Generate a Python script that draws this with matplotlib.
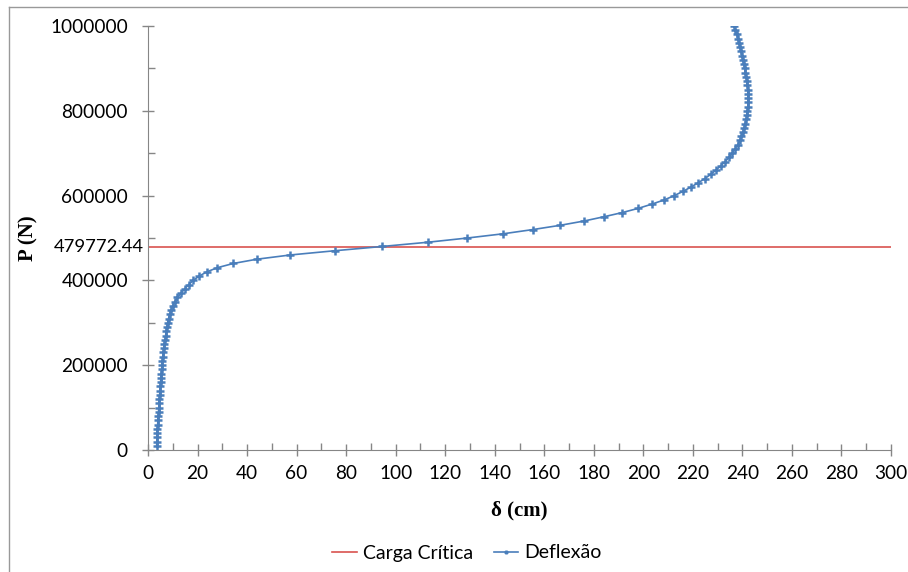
import matplotlib.pyplot as plt
from matplotlib.lines import Line2D
from matplotlib.ticker import MultipleLocator, StrMethodFormatter

# --- Data ---
carga_critica = 479772.44

# P (N), every 10000 N
P = [10000 * (i + 1) for i in range(100)]

# deflection delta (cm) for each P
delta = [
    3.5, 3.55, 3.6, 3.7, 3.8, 3.9, 4.0, 4.1, 4.25, 4.4,
    4.5, 4.6, 4.7, 4.85, 4.95, 5.1, 5.2, 5.35, 5.5, 5.65,
    5.8, 6.0, 6.2, 6.4, 6.6, 6.85, 7.1, 7.35, 7.6, 7.9,
    8.3, 8.7, 9.3, 9.9, 10.8, 11.9, 13.4, 14.8, 16.4, 18.3,
    20.6, 23.7, 28.0, 34.5, 44.0, 57.5, 75.5, 94.5, 113.0, 129.0,
    143.5, 155.5, 166.5, 176.0, 184.0, 191.5, 198.0, 203.5, 208.5, 212.5,
    216.0, 219.2, 222.1, 224.8, 227.2, 229.3, 231.2, 233.0, 234.6, 235.9,
    237.0, 238.1, 238.9, 239.6, 240.2, 240.7, 241.1, 241.5, 241.8, 242.0,
    242.2, 242.3, 242.3, 242.3, 242.2, 242.0, 241.8, 241.5, 241.2, 240.9,
    240.5, 240.2, 239.8, 239.4, 239.0, 238.6, 238.2, 237.7, 237.2, 236.8,
]

x_range = [0, 300]

# --- Plot ---
plt.rcParams['font.family'] = ['Lato', 'DejaVu Sans']
fig = plt.figure(figsize=(9.08, 5.72), dpi=100)
ax = fig.add_axes([148 / 908, 122 / 572, 743 / 908, 424 / 572])

ax.plot(x_range, [carga_critica, carga_critica], color='#D9534F', lw=1.2,
        label='Carga Crítica')
ax.plot(delta, P, color='#4A7EBB', lw=1.2, marker='+', ms=5.5, mew=1.8,
        label='Deflexão')

ax.set_xlim(0, 300)
ax.set_ylim(0, 1000000)
ax.xaxis.set_major_locator(MultipleLocator(20))
ax.xaxis.set_minor_locator(MultipleLocator(10))
ax.yaxis.set_major_locator(MultipleLocator(200000))
ax.yaxis.set_minor_locator(MultipleLocator(100000))
ax.yaxis.set_major_formatter(StrMethodFormatter('{x:.0f}'))

for s in ['top', 'right']:
    ax.spines[s].set_visible(False)
for s in ['left', 'bottom']:
    ax.spines[s].set_color('#868686')
ax.tick_params(which='major', direction='inout', length=9, width=1,
               color='#868686', labelsize=13.7, pad=6)
ax.tick_params(which='minor', direction='in', length=5, width=1,
               color='#868686')
ax.tick_params(axis='y', which='major', pad=10)

ax.text(-0.006, carga_critica, '479772.44', transform=ax.get_yaxis_transform(),
        ha='right', va='center', fontsize=13.3)

ax.set_xlabel('δ (cm)', family='Liberation Serif', fontweight='bold', fontsize=15)
ax.set_ylabel('P (N)', family='Liberation Serif', fontweight='bold', fontsize=15)
ax.xaxis.set_label_coords(0.5, -0.118)
ax.yaxis.set_label_coords(-0.148, 0.5)

fig.legend(loc='center', bbox_to_anchor=(467 / 908, 1 - 553 / 572), ncol=2,
           frameon=False, fontsize=14, handlelength=1.25, handletextpad=0.3,
           columnspacing=1.1, markerscale=0.5)

# outer chart border
fig.add_artist(Line2D([9 / 908, 9 / 908], [0, 1 - 7 / 572], color='#999999', lw=1))
fig.add_artist(Line2D([9 / 908, 1], [1 - 7 / 572, 1 - 7 / 572], color='#999999', lw=1))

fig.savefig('out.png', dpi=100)
